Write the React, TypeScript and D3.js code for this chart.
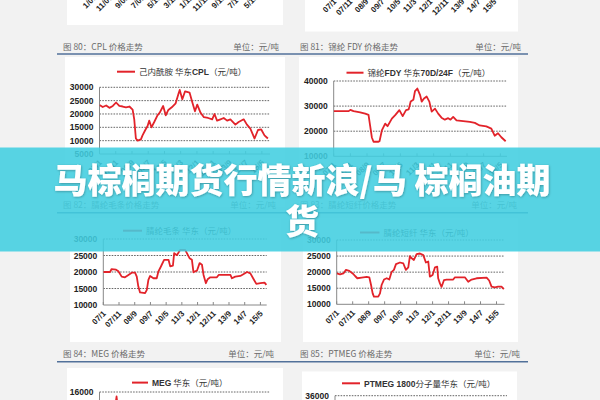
import React from "react";
import * as d3 from "d3";

// ---------- data ----------
const xTickLabels = ["07/1", "07/11", "08/9", "09/7", "10/5", "11/3", "12/1", "12/11", "13/9", "14/7", "15/5"];
const xTickMonths = [0, 10, 20, 30, 40, 50, 60, 70, 80, 90, 100];
const topLeftLabels = ["1/07", "11/07", "9/08", "7/09", "5/10", "3/11", "1/12", "11/12", "9/13", "7/14", "5/15"];

const cplMonths = [0, 2.0, 4.1, 6.1, 8.2, 10.2, 12.2, 14.3, 16.3, 18.4, 20.4, 21.4, 22.4, 23.5, 25.5, 26.5, 28.2, 29.6, 30.6, 32.0, 33.7, 35.7, 37.1, 39.2, 40.8, 42.4, 44.5, 46.9, 48.6, 49.4, 51.0, 52.7, 55.5, 57.1, 58.8, 60.2, 62.2, 64.3, 66.9, 69.4, 70.8, 72.4, 74.5, 76.5, 78.6, 80.6, 83.7, 85.7, 88.8, 90.8, 92.9, 95.5, 97.6, 99.6, 101.6, 103.7];
const cplValues = [23400, 22600, 23200, 22300, 23000, 24300, 23000, 22800, 22500, 22800, 21600, 18000, 10800, 10000, 10500, 12000, 14000, 15500, 17500, 15000, 17000, 19500, 20500, 23000, 19500, 21500, 22500, 24000, 27500, 29000, 25500, 28500, 28000, 24500, 21000, 23500, 20500, 18800, 18500, 18000, 20000, 17500, 18000, 18500, 17500, 18000, 16000, 17000, 18000, 16000, 14500, 10800, 14000, 14200, 12000, 10800];

const fdyMonths = [0, 9.0, 10.0, 11.9, 15.9, 18.9, 20.9, 21.9, 22.9, 23.9, 26.9, 27.5, 28.9, 30.9, 32.3, 34.9, 36.9, 39.4, 41.4, 43.4, 45.0, 46.2, 47.8, 48.8, 50.2, 51.8, 52.8, 54.2, 55.8, 57.4, 58.8, 60.8, 62.7, 64.7, 66.7, 68.7, 70.1, 71.7, 73.7, 77.7, 81.7, 84.7, 87.6, 91.6, 94.6, 96.6, 98.6, 100.6, 103.2];
const fdyValues = [28000, 28000, 28500, 28000, 27500, 27000, 26500, 22000, 17500, 15800, 15800, 16000, 20300, 23000, 22000, 25000, 26400, 28400, 26000, 28400, 28700, 31800, 32500, 36000, 37000, 34500, 31800, 33000, 33800, 31800, 27800, 29000, 27000, 25400, 24600, 25200, 24600, 25700, 24300, 24000, 23700, 23300, 22300, 21900, 21000, 18200, 19200, 17600, 16000];

const topsMonths = [0, 4.3, 5.3, 8.1, 9.6, 11.7, 13.8, 16.0, 18.1, 20.2, 21.3, 22.3, 23.4, 26.6, 27.7, 28.7, 29.8, 31.9, 34.0, 35.1, 36.2, 37.2, 38.7, 41.5, 42.6, 44.3, 45.1, 46.8, 47.9, 48.9, 52.1, 53.2, 54.9, 56.4, 57.4, 58.5, 59.6, 61.3, 62.8, 63.8, 65.3, 66.4, 68.1, 72.3, 73.4, 80.9, 81.9, 84.0, 87.2, 89.4, 91.5, 93.6, 95.7, 97.4, 100.0, 102.6, 103.8];
const topsValues = [20000, 20000, 20900, 20700, 20200, 18600, 18400, 19100, 19800, 19800, 18600, 15600, 13800, 13600, 14600, 17600, 18800, 18100, 18100, 20200, 21200, 22200, 23700, 23700, 21700, 21900, 25700, 25100, 25900, 26700, 26700, 25700, 24200, 23700, 19900, 20200, 20400, 22700, 22200, 19100, 16600, 17800, 18400, 18400, 19100, 19100, 18100, 18600, 18800, 19400, 20000, 19600, 17800, 16400, 16600, 16800, 16100];

const stapleMonths = [0, 2.1, 4.2, 5.8, 7.9, 10.0, 11.5, 12.9, 15.6, 18.8, 20.4, 21.5, 22.5, 23.3, 26.0, 27.1, 28.1, 29.6, 31.3, 32.9, 34.4, 35.8, 37.1, 39.6, 41.7, 43.3, 44.8, 45.8, 46.9, 48.3, 50.0, 52.1, 54.2, 55.8, 57.3, 58.3, 60.0, 61.5, 62.9, 63.5, 64.6, 65.6, 67.1, 68.8, 72.9, 74.0, 80.2, 82.3, 84.4, 87.5, 93.8, 95.4, 96.9, 99.0, 101.0, 103.1, 104.6];
const stapleValues = [19600, 19300, 19600, 20700, 20400, 19600, 18800, 18100, 18300, 18500, 18400, 16000, 13400, 12400, 12400, 13400, 16000, 17700, 18100, 17700, 20100, 20700, 22500, 23000, 22700, 20700, 21500, 25000, 24300, 23800, 25600, 25800, 25300, 23000, 23300, 18600, 19100, 21500, 21700, 18100, 16500, 15400, 17500, 17700, 17700, 18400, 18400, 17000, 17700, 18100, 18300, 17400, 15500, 15300, 15500, 15500, 14700];

const megMonths = [0, 4, 8, 9.8, 10.5, 11.2, 14, 18];
const megValues = [9000, 10000, 12000, 14200, 15400, 14000, 11000, 9000];

const ptmegMonths = [0, 10, 20];
const ptmegValues = [30000, 31000, 30000];

const cplTicks = [5000, 10000, 15000, 20000, 25000, 30000];
const fdyTicks = [10000, 20000, 30000, 40000];
const acrTicks = [10000, 15000, 20000, 25000, 30000];
const megTicks = [16000];
const ptmegTicks = [36000];

const headers = [
  { left: "图 80：CPL 价格走势", right: "单位：元/吨" },
  { left: "图 81：锦纶 FDY 价格走势", right: "单位：元/吨" },
  { left: "图 82：腈纶毛条价格走势", right: "单位：元/吨" },
  { left: "图 83：腈纶短纤价格走势", right: "单位：元/吨" },
  { left: "图 84：MEG 价格走势", right: "单位：元/吨" },
  { left: "图 85：PTMEG 价格走势", right: "单位：元/吨" },
];

const titleLine1 = "马棕榈期货行情新浪/马 棕榈油期";
const titleLine2 = "货";

// ---------- styling ----------
const RED = "#e2232a";
const BG = "#f2f2f2";
const HEADER_BLUE = "#52719a";
const NUM_FONT = "'Liberation Sans', Arial, sans-serif";
const CJK_FONT = "'Noto Sans CJK SC', 'Noto Sans', sans-serif";

type Cfg = {
  id: string;
  months: number[];
  values: number[];
  ticks: number[];
  yDomain: [number, number];
  x0: number; x1: number; yTop: number; yBottom: number; xMax: number;
  legX0: number; legX1: number; legY: number;
  legend: React.ReactNode;
  showXLabels: boolean;
  clipBottom: number;
};

function LineChart({ cfg }: { cfg: Cfg }) {
  const x = d3.scaleLinear().domain([0, cfg.xMax]).range([cfg.x0, cfg.x1]);
  const y = d3.scaleLinear().domain(cfg.yDomain).range([cfg.yBottom, cfg.yTop]);
  const pts: [number, number][] = cfg.months.map((m, i) => [m, cfg.values[i]]);
  const line = d3.line<[number, number]>().x((d) => x(d[0])).y((d) => y(d[1]));
  const bottomVal = cfg.yDomain[0];
  return (
    <g>
      <defs>
        <clipPath id={"clip-" + cfg.id}>
          <rect x={cfg.x0} y={cfg.yTop - 3} width={cfg.x1 - cfg.x0 + 2} height={cfg.clipBottom - cfg.yTop + 3} />
        </clipPath>
      </defs>
      <line x1={cfg.legX0} x2={cfg.legX1} y1={cfg.legY} y2={cfg.legY} stroke={RED} strokeWidth={2} />
      <text x={cfg.legX1 + 4} y={cfg.legY + 3.2} fontSize={8.5} fill="#333" fontFamily={CJK_FONT}>
        {cfg.legend}
      </text>
      {cfg.ticks.map((t) => (
        <g key={t}>
          {t !== bottomVal && (
            <line x1={cfg.x0} x2={cfg.x1} y1={y(t)} y2={y(t)} stroke="#555" strokeWidth={0.9} strokeDasharray="1.6 1.2" />
          )}
          <text x={cfg.x0 - 6} y={y(t) + 3} textAnchor="end" fontSize={8.5} fontWeight="bold" fill="#222" fontFamily={NUM_FONT}>
            {t}
          </text>
        </g>
      ))}
      <line x1={cfg.x0} x2={cfg.x0} y1={cfg.yTop} y2={Math.min(cfg.yBottom, 400)} stroke="#888" strokeWidth={1} />
      {cfg.showXLabels && (
        <g>
          <line x1={cfg.x0} x2={cfg.x1} y1={cfg.yBottom} y2={cfg.yBottom} stroke="#888" strokeWidth={1} />
          {xTickMonths.map((m, i) => (
            <g key={m}>
              <line x1={x(m)} x2={x(m)} y1={cfg.yBottom} y2={cfg.yBottom - 3} stroke="#888" strokeWidth={1} />
              <text
                transform={`translate(${x(m) + 3},${cfg.yBottom + 9}) rotate(-45)`}
                textAnchor="end"
                fontSize={8}
                fontWeight="bold"
                fill="#222"
                fontFamily={NUM_FONT}
              >
                {xTickLabels[i]}
              </text>
            </g>
          ))}
        </g>
      )}
      <path d={line(pts) || ""} fill="none" stroke={RED} strokeWidth={1.8} strokeLinejoin="round" clipPath={`url(#clip-${cfg.id})`} />
    </g>
  );
}

function Header({ y, lx, rx, h }: { y: number; lx: number; rx: number; h: { left: string; right: string } }) {
  return (
    <g fontFamily={CJK_FONT} fontSize={8.5} fill="#6a6a6a">
      <text x={lx} y={y}>{h.left}</text>
      <text x={rx} y={y} textAnchor="end">{h.right}</text>
    </g>
  );
}

export default function App() {
  const charts: Cfg[] = [
    {
      id: "cpl", months: cplMonths, values: cplValues, ticks: cplTicks, yDomain: [5000, 30000],
      x0: 99.5, x1: 270, yTop: 87.3, yBottom: 154, xMax: 105,
      legX0: 117, legX1: 135, legY: 71.7, showXLabels: true, clipBottom: 154,
      legend: (<><tspan>己内酰胺 华东</tspan><tspan fontWeight="bold" fontFamily={NUM_FONT}>CPL</tspan><tspan>（元/吨）</tspan></>),
    },
    {
      id: "fdy", months: fdyMonths, values: fdyValues, ticks: fdyTicks, yDomain: [10000, 40000],
      x0: 333.7, x1: 507, yTop: 81, yBottom: 156.3, xMax: 104,
      legX0: 346.5, legX1: 363.5, legY: 72.7, showXLabels: true, clipBottom: 156.3,
      legend: (<><tspan>锦纶</tspan><tspan fontWeight="bold" fontFamily={NUM_FONT}>FDY</tspan><tspan> 华东</tspan><tspan fontWeight="bold" fontFamily={NUM_FONT}>70D/24F</tspan><tspan>（元/吨）</tspan></>),
    },
    {
      id: "tops", months: topsMonths, values: topsValues, ticks: acrTicks, yDomain: [10000, 30000],
      x0: 103.3, x1: 266.7, yTop: 239, yBottom: 305, xMax: 104,
      legX0: 123, legX1: 142, legY: 230.7, showXLabels: true, clipBottom: 305,
      legend: (<tspan>腈纶毛条 华东（元/吨）</tspan>),
    },
    {
      id: "staple", months: stapleMonths, values: stapleValues, ticks: acrTicks, yDomain: [10000, 30000],
      x0: 336.7, x1: 504.5, yTop: 240, yBottom: 304.3, xMax: 105,
      legX0: 360, legX1: 379.5, legY: 232.5, showXLabels: true, clipBottom: 304.3,
      legend: (<tspan>腈纶短纤 华东（元/吨）</tspan>),
    },
    {
      id: "meg", months: megMonths, values: megValues, ticks: megTicks, yDomain: [14000, 16000],
      x0: 99.5, x1: 270, yTop: 392, yBottom: 407, xMax: 105,
      legX0: 132, legX1: 148, legY: 382.6, showXLabels: false, clipBottom: 400,
      legend: (<><tspan fontWeight="bold" fontFamily={NUM_FONT}>MEG</tspan><tspan> 华东（元/吨）</tspan></>),
    },
    {
      id: "ptmeg", months: ptmegMonths, values: ptmegValues, ticks: ptmegTicks, yDomain: [34000, 36000],
      x0: 335, x1: 507, yTop: 395.7, yBottom: 410, xMax: 105,
      legX0: 342, legX1: 360, legY: 383.3, showXLabels: false, clipBottom: 400,
      legend: (<><tspan fontWeight="bold" fontFamily={NUM_FONT}>PTMEG 1800</tspan><tspan>分子量华东（元/吨）</tspan></>),
    },
  ];

  const topL = d3.scaleLinear().domain([0, 100]).range([97, 258]);
  const topR = d3.scaleLinear().domain([0, 100]).range([337, 497]);

  return (
    <svg width={600} height={400} style={{ position: "absolute", left: 0, top: 0, display: "block" }}>
      <defs>
        <filter id="tshadow" x="-10%" y="-20%" width="120%" height="140%">
          <feDropShadow dx="0.6" dy="0.8" stdDeviation="0.8" floodColor="#000" floodOpacity="0.3" />
        </filter>
      </defs>
      <rect x={0} y={0} width={600} height={400} fill={BG} />

      <rect x={67} y={0} width={216} height={25} fill="#fff" />
      <rect x={305} y={0} width={213} height={31.5} fill="#fff" />
      {topLeftLabels.map((l, i) => (
        <text key={l} transform={`translate(${topL(i * 10)},-2) rotate(-45)`} textAnchor="end" fontSize={8} fontWeight="bold" fill="#222" fontFamily={NUM_FONT}>{l}</text>
      ))}
      {xTickLabels.map((l, i) => (
        <text key={l} transform={`translate(${topR(xTickMonths[i])},2) rotate(-45)`} textAnchor="end" fontSize={8} fontWeight="bold" fill="#222" fontFamily={NUM_FONT}>{l}</text>
      ))}

      <rect x={65} y={57} width={220} height={150} fill="#fff" />
      <rect x={299} y={57} width={219} height={150} fill="#fff" />
      <rect x={70} y={218} width={211} height={124} fill="#fff" />
      <rect x={303} y={218} width={215} height={124} fill="#fff" />
      <rect x={67} y={368} width={216} height={32} fill="#fff" />
      <rect x={302} y={371.5} width={215} height={29} fill="#fff" />

      <Header y={49.5} lx={63} rx={279} h={headers[0]} />
      <Header y={49.5} lx={300} rx={521} h={headers[1]} />
      <line x1={57} x2={528} y1={54} y2={54} stroke={HEADER_BLUE} strokeWidth={1.4} />
      <Header y={208} lx={63} rx={276} h={headers[2]} />
      <Header y={208} lx={300} rx={517} h={headers[3]} />
      <line x1={57} x2={528} y1={212.7} y2={212.7} stroke={HEADER_BLUE} strokeWidth={1.4} />
      <Header y={356.5} lx={63} rx={274} h={headers[4]} />
      <Header y={356.5} lx={300} rx={520} h={headers[5]} />
      <line x1={57} x2={528} y1={361.7} y2={361.7} stroke={HEADER_BLUE} strokeWidth={1.4} />

      {charts.map((c) => (
        <LineChart key={c.id} cfg={c} />
      ))}

      <rect x={0} y={147.5} width={600} height={104} fill="rgb(65,206,224)" opacity={0.88} />
      <g filter="url(#tshadow)" fontFamily="'Noto Sans CJK SC', sans-serif" fontWeight={900} fontSize={34} fill="#fff" textAnchor="middle">
        <text x={302} y={193}>{titleLine1}</text>
        <text x={302} y={234}>{titleLine2}</text>
      </g>
    </svg>
  );
}
